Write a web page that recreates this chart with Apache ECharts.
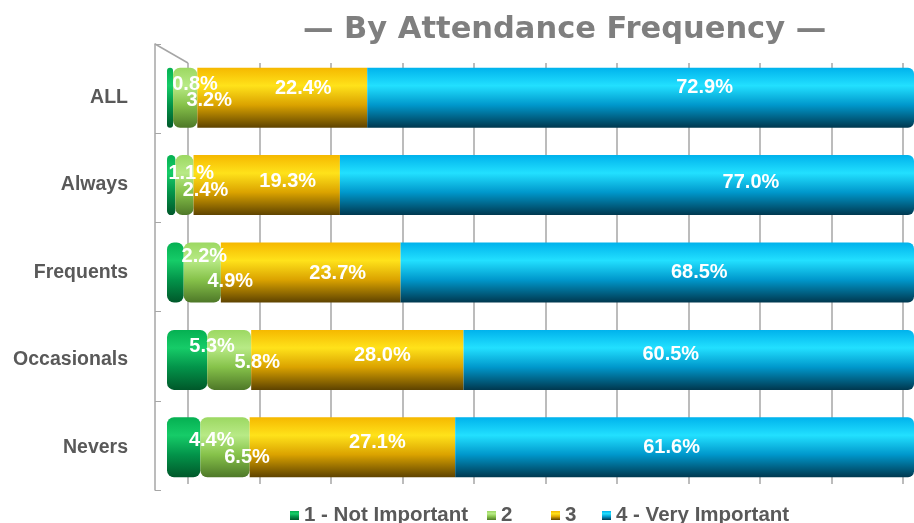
<!DOCTYPE html>
<html>
<head>
<meta charset="utf-8">
<title>By Attendance Frequency</title>
<script src="https://cdn.jsdelivr.net/npm/echarts@6/dist/echarts.min.js"></script>
<style>
    html, body { margin: 0; padding: 0; background: #fff; }
    #main { width: 914px; height: 523px; }
</style>
</head>
<body>
<div id="main"></div>
<script>
// data
var categories = ['ALL', 'Always', 'Frequents', 'Occasionals', 'Nevers'];
var seriesNames = ['1 - Not Important', '2', '3', '4 - Very Important'];
var notImportant = [0.8, 1.1, 2.2, 5.3, 4.4];
var two = [3.2, 2.4, 4.9, 5.8, 6.5];
var three = [22.4, 19.3, 23.7, 28.0, 27.1];
var veryImportant = [72.9, 77.0, 68.5, 60.5, 61.6];

// label nudges (px), the excel 3d labels sit off-centre
var shift1 = [[25, -13], [20, -12], [29, -16], [25, -13], [28, -7]];
var shift2 = [[24, 3], [21, 5], [28, 9], [28, 3], [22, 10]];
var shift3 = [[21, -9], [21, -4], [27, 1], [25, -4], [25, -5]];
var shift4 = [[64, -10], [124, -3], [42, 0], [-18, -5], [-13, 0]];

// legend item x positions (component box, icon sits 5px in)
var legendLeft = [285, 482, 546, 597];

var FONT = '"Liberation Sans", Arial, sans-serif';

function cyl(top, hi, mid, bottom) {
    return new echarts.graphic.LinearGradient(0, 0, 0, 1, [
        {offset: 0, color: top},
        {offset: 0.3, color: hi},
        {offset: 0.62, color: mid},
        {offset: 1, color: bottom}
    ]);
}

function build(values, shifts) {
    return values.map(function (v, i) {
        return {value: v, label: {offset: shifts[i]}};
    });
}

function barSeries(name, values, shifts, fill, radius) {
    return {
        name: name,
        type: 'bar',
        stack: 'total',
        xAxisIndex: 0,
        yAxisIndex: 0,
        barWidth: 60,
        data: build(values, shifts),
        itemStyle: {color: fill, borderRadius: radius},
        label: {
            show: true,
            position: 'inside',
            color: '#fff',
            fontFamily: FONT,
            fontWeight: 'bold',
            fontSize: 20,
            formatter: function (p) { return p.value.toFixed(1) + '%'; }
        },
        emphasis: {disabled: true}
    };
}

var myChart = echarts.init(document.getElementById('main'));

var legends = seriesNames.map(function (n, i) {
    return {
        data: [n],
        left: legendLeft[i],
        top: 500,
        icon: 'rect',
        itemWidth: 9,
        itemHeight: 9,
        textStyle: {fontFamily: FONT, fontWeight: 'bold', fontSize: 20.5, color: '#595959'}
    };
});

var option = {
    animation: false,
    title: {
        text: '\u2014 By Attendance Frequency \u2014',
        left: 303,
        top: 15,
        padding: 0,
        textStyle: {
            fontFamily: '"DejaVu Sans", sans-serif',
            fontWeight: 'bold',
            fontSize: 30.5,
            color: '#7f7f7f'
        }
    },
    legend: legends,
    grid: [
        {left: 167, right: 0, top: 54, bottom: 32},
        {left: 188, width: 715, top: 63, bottom: 39},
        {left: 155, width: 1, top: 44, bottom: 33}
    ],
    xAxis: [
        {gridIndex: 0, type: 'value', min: 0, max: 98.5, show: false},
        {
            gridIndex: 1, type: 'value', min: 0, max: 100, interval: 10,
            axisLine: {show: false}, axisTick: {show: false}, axisLabel: {show: false},
            splitLine: {show: true, lineStyle: {color: '#a6a6a6', width: 1.5}}
        },
        {gridIndex: 2, type: 'value', show: false}
    ],
    yAxis: [
        {
            gridIndex: 0, type: 'category', data: categories, inverse: true,
            axisLine: {show: false}, axisTick: {show: false},
            axisLabel: {margin: 39, fontFamily: FONT, fontWeight: 'bold', fontSize: 19.5, color: '#595959'}
        },
        {gridIndex: 1, type: 'value', show: false},
        {
            gridIndex: 2, type: 'category', data: categories, inverse: true,
            axisLine: {show: true, lineStyle: {color: '#a6a6a6', width: 1.5}},
            axisTick: {show: true, inside: true, length: 6, lineStyle: {color: '#a6a6a6'}},
            axisLabel: {show: false}
        }
    ],
    graphic: [{
        type: 'line',
        shape: {x1: 155, y1: 44, x2: 188, y2: 63},
        style: {stroke: '#a6a6a6', lineWidth: 1.5}
    }],
    series: [
        barSeries(seriesNames[0], notImportant, shift1,
            cyl('#05b052', '#16cc68', '#03944a', '#00582a'), 7),
        barSeries(seriesNames[1], two, shift2,
            cyl('#9cd862', '#b8ea86', '#86c24a', '#4e7828'), 7),
        barSeries(seriesNames[2], three, shift3,
            cyl('#f5b800', '#ffe21a', '#dba300', '#5e4300'), 0),
        barSeries(seriesNames[3], veryImportant, shift4,
            cyl('#00b2ec', '#22e0ff', '#0098cc', '#00384f'), [0, 6, 6, 0])
    ]
};

myChart.setOption(option);
window.onresize = function () {
    myChart.resize();
};
</script>
</body>
</html>
